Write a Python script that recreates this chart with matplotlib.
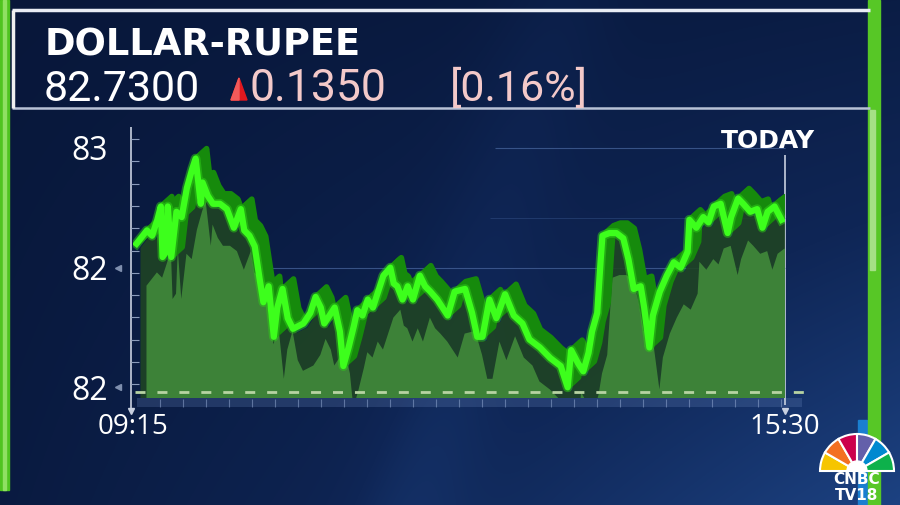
import numpy as np
import matplotlib.pyplot as plt
from matplotlib import transforms
from matplotlib.patches import Rectangle, Polygon, Wedge
from matplotlib.colors import LinearSegmentedColormap

# USD/INR intraday, minutes after 09:15
minutes = [2, 8, 11, 14, 16, 17, 19, 20, 22, 25, 28, 31, 34, 36, 39, 40, 43, 46, 50, 54,
           58, 62, 64, 67, 70, 73, 75, 78, 81, 83, 86, 89, 92, 98, 102, 105, 108, 110, 113, 116,
           119, 121, 124, 127, 129, 132, 135, 138, 141, 144, 148, 150, 152, 155, 158, 161, 165, 168, 171, 175,
           178, 181, 185, 191, 195, 198, 201, 205, 209, 214, 219, 224, 228, 234, 240, 246, 250, 252, 256, 259,
           262, 264, 267, 269, 270, 274, 278, 282, 285, 288, 292, 294, 297, 299, 303, 307, 311, 315, 319, 320,
           324, 328, 331, 334, 338, 342, 344, 348, 351, 355, 359, 362, 365, 369, 373]
rate = [82.64, 82.69, 82.67, 82.73, 82.78, 82.59, 82.61, 82.78, 82.59, 82.76, 82.74, 82.85, 82.92, 82.96, 82.79, 82.87, 82.82, 82.79, 82.79, 82.77,
        82.70, 82.77, 82.69, 82.67, 82.63, 82.50, 82.42, 82.48, 82.29, 82.40, 82.47, 82.36, 82.32, 82.34, 82.38, 82.44, 82.40, 82.34, 82.37, 82.40,
        82.31, 82.18, 82.25, 82.33, 82.39, 82.37, 82.43, 82.40, 82.46, 82.52, 82.55, 82.49, 82.48, 82.43, 82.48, 82.43, 82.52, 82.48, 82.46, 82.43,
        82.40, 82.37, 82.46, 82.47, 82.38, 82.29, 82.29, 82.43, 82.36, 82.45, 82.37, 82.34, 82.28, 82.25, 82.21, 82.18, 82.10, 82.24, 82.19, 82.16,
        82.23, 82.31, 82.38, 82.58, 82.67, 82.68, 82.68, 82.66, 82.58, 82.47, 82.48, 82.40, 82.25, 82.37, 82.46, 82.52, 82.57, 82.55, 82.61, 82.73,
        82.70, 82.74, 82.72, 82.78, 82.79, 82.68, 82.74, 82.81, 82.79, 82.76, 82.77, 82.70, 82.76, 82.78, 82.73]

title = 'DOLLAR-RUPEE'
last_price = '82.7300'
change = '0.1350'
change_pct = '[0.16%]'
y_ticks = [83.0, 82.55, 82.1]
y_labels = ['83', '82', '82']
x_ticks = [0, 375]
x_labels = ['09:15', '15:30']

W, H = 900, 505
fig = plt.figure(figsize=(9, 5.05), dpi=100)

# background layer in pixel coords
bg = fig.add_axes([0, 0, 1, 1], zorder=0)
bg.set_xlim(0, W)
bg.set_ylim(H, 0)
bg.axis('off')

yy, xx = np.mgrid[0:H, 0:W]
shade = np.clip(0.2 * xx / W + 0.6 * (yy / H) * (xx / W) + 0.12 * yy / H, 0, 1)
streak = np.exp(-((xx - (560 - 0.3 * yy)) / 60.0) ** 2) * 0.15
shade = np.clip(shade + streak, 0, 1)
cmap = LinearSegmentedColormap.from_list('navy', ['#08173a', '#0f2656', '#1f478a'])
bg.imshow(shade, cmap=cmap, extent=(0, W, H, 0), aspect='auto', vmin=0, vmax=1)

# header frame
bg.hlines(10, 12, 870, color='#e8ecf4', lw=2.5)
bg.hlines(108, 12, 870, color='#b8c2d6', lw=1.8)
bg.vlines(13, 10, 108, color='#f0f0f0', lw=2.5)
bg.text(45, 55, title, fontsize=26.5, fontweight='bold', color='white', family='DejaVu Sans')
bg.text(44, 101, last_price, fontsize=31, color='white', family='Roboto')
bg.add_patch(Polygon([(231, 100), (239, 78), (247, 100)], closed=True, color='#e3181e'))
bg.add_patch(Polygon([(231, 100), (239, 78), (239, 100)], closed=True, color='#f25a5a'))
bg.text(250, 101, change, fontsize=32, color='#f3c9c9', family='Roboto')
bg.text(450, 101, change_pct, fontsize=31, color='#f3c9c9', family='Roboto')

# side bars
bg.add_patch(Rectangle((0, 0), 9, 490, color='#4fc41f'))
bg.add_patch(Rectangle((3, 0), 3, 490, color='#8fe062'))
bg.add_patch(Rectangle((858, 420), 9, 85, color='#1a7fd0'))
bg.add_patch(Rectangle((868, 0), 12, 505, color='#57c726'))
bg.add_patch(Rectangle((870, 110), 5, 160, color='#a5e086'))

# axis decorations
bg.vlines(131, 127, 410, color='#c8d0e0', lw=1.2)
bg.hlines(np.arange(139, 400, 22.3), 131, 139, color='#8c9cbc', lw=0.8)
bg.plot([118, 118], [268, 387], ls='none', marker='<', ms=5, color='#7f8fae')
bg.plot([131], [411], marker='v', ms=4, color='#c8d0e0')
bg.vlines(785, 155, 405, color='#c8d0e0', lw=1.2)
bg.plot([785], [411], marker='v', ms=4, color='#c8d0e0')
bg.hlines(268, 270, 785, color='#4a68a0', lw=0.8, alpha=0.7)
bg.hlines(148, 495, 785, color='#4a68a0', lw=0.8, alpha=0.7)
bg.hlines(218, 490, 785, color='#3a5890', lw=0.6, alpha=0.5)
bg.add_patch(Rectangle((137, 398), 665, 9, color='#6a88c0', alpha=0.25, lw=0))
bg.vlines(np.arange(160, 800, 23), 399, 407, color='#9ab0d8', lw=0.8, alpha=0.5)
bg.text(815, 148, 'TODAY', fontsize=18, fontweight='bold', color='white', family='DejaVu Sans',
        ha='right', va='baseline')

# peacock logo
feathers = ['#f6c500', '#f37021', '#cc004c', '#6460aa', '#0089d0', '#0db14b']
for i, c in enumerate(feathers):
    bg.add_patch(Wedge((857, 471), 37, 180 + i * 30, 180 + (i + 1) * 30,
                       facecolor=c, edgecolor='white', lw=1.5))
bg.add_patch(Wedge((857, 471), 10, 180, 360, facecolor='white', edgecolor='white'))
bg.text(857, 479, 'CNBC', fontsize=11, fontweight='bold', color='white', ha='center',
        va='center', family='DejaVu Sans')
bg.text(857, 496, 'TV18', fontsize=11, fontweight='bold', color='white', ha='center',
        va='center', family='DejaVu Sans')

# data axes
ax = fig.add_axes([133 / W, (H - 398) / H, 652 / W, 278 / H], zorder=1)
ax.patch.set_visible(False)
ax.set_xlim(0, 375)
ax.set_ylim(82.06, 83.105)
for s in ax.spines.values():
    s.set_visible(False)


def shift(dx, dy):
    return transforms.offset_copy(ax.transData, fig=fig, x=dx, y=dy, units='dots')


ax.fill_between(minutes, rate, 81.0, color='#1f4424', lw=0, alpha=0.9, transform=shift(4, -4))
ax.fill_between(minutes, rate, 81.0, color='#3f8639', lw=0, alpha=0.95, transform=shift(10, -42))
for k in range(1, 11):
    ax.plot(minutes, rate, color='#168a0c', lw=4, transform=shift(k * 1.1, k * 1.0))
ax.plot(minutes, rate, color='#2ecf18', lw=7, alpha=0.5)
ax.plot(minutes, rate, color='#3dff1c', lw=4.5)
ax.hlines(392, 135, 805, color='#b7d3a2', lw=2, linestyle=(0, (3.6, 4.3)),
          transform=bg.transData, clip_on=False)

ax.set_yticks(y_ticks, y_labels)
ax.set_xticks(x_ticks, x_labels)
ax.tick_params(axis='y', length=0, pad=18, labelsize=23, labelcolor='white')
ax.tick_params(axis='x', length=0, pad=11, labelsize=20, labelcolor='white')
for lab in ax.get_xticklabels() + ax.get_yticklabels():
    lab.set_family('Open Sans')

fig.savefig('out.png', dpi=100)
